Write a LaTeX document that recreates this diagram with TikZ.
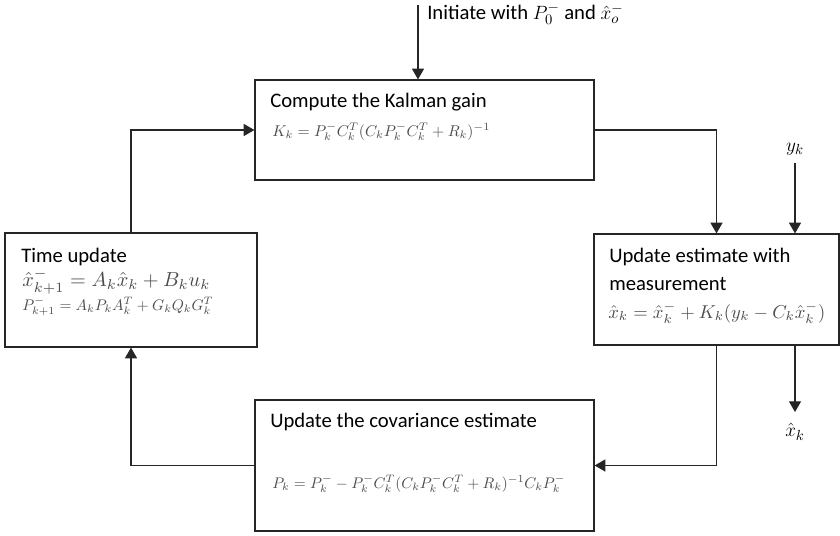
\documentclass[tikz,border=0pt]{standalone}
\usepackage{fontspec}
\usepackage{amsmath}
\usepackage{graphicx}
\usetikzlibrary{arrows.meta}
\newfontfamily\calib{Carlito}
\definecolor{eqgray}{gray}{0.3}
\definecolor{linec}{gray}{0.15}
\begin{document}
\begin{tikzpicture}[x=0.75pt,y=-0.75pt,
  box/.style={draw=linec, line width=0.9pt, inner sep=0pt},
  arr/.style={draw=linec, line width=0.9pt, -{Triangle[width=9pt,length=8pt]}},
  lbl/.style={anchor=base west, inner sep=0pt, font=\calib\fontsize{15.5}{18}\selectfont},
  eq/.style={anchor=base west, inner sep=0pt, text=eqgray}]
\useasboundingbox (0,0) rectangle (840,536);
% boxes
\node[box, minimum width=254.25pt, minimum height=75pt] (k) at (424.5,130) {};
\node[box, minimum width=189pt, minimum height=85.5pt] (t) at (131,290) {};
\node[box, minimum width=183.75pt, minimum height=83.25pt] (u) at (716.5,289.5) {};
\node[box, minimum width=254.25pt, minimum height=98.25pt] (c) at (424.5,465.5) {};
% texts
\node[lbl] (kt) at (270,107) {Compute the Kalman gain};
\node[eq] (ke) at (272,136) {\resizebox{163.5pt}{!}{$K_k = P_k^- C_k^T (C_k P_k^- C_k^T + R_k)^{-1}$}};
\node[lbl] (tt) at (21,262) {Time update};
\node[eq] (te1) at (22,286) {\resizebox{141pt}{!}{$\hat{x}_{k+1}^- = A_k \hat{x}_k + B_k u_k$}};
\node[eq] (te2) at (22,310) {\resizebox{143.25pt}{!}{$P_{k+1}^- = A_k P_k A_k^T + G_k Q_k G_k^T$}};
\node[lbl] (ut1) at (609,262) {Update estimate with};
\node[lbl] (ut2) at (609,290) {measurement};
\node[eq] (ue) at (608,318) {\resizebox{162.75pt}{!}{$\hat{x}_k = \hat{x}_k^- + K_k (y_k - C_k \hat{x}_k^-)$}};
\node[lbl] (ct) at (270,427) {Update the covariance estimate};
\node[eq] (ce) at (272,488) {\resizebox{219.75pt}{!}{$P_k = P_k^- - P_k^- C_k^T (C_k P_k^- C_k^T + R_k)^{-1} C_k P_k^-$}};
% initiate
\coordinate (init) at (418,5);
\node[lbl] (it) at (427,19) {Initiate with $P_0^-$ and $\hat{x}_o^-$};
\draw[arr] (init) -- (init |- k.north);
% yk and xk
\node[anchor=base, inner sep=0pt, font=\fontsize{15}{17}\selectfont] (yk) at (795,151) {$y_k$};
\coordinate (yks) at (795,163);
\draw[arr] (yks) -- (yks |- u.north);
\node[anchor=north, inner sep=0pt, font=\fontsize{15}{17}\selectfont] (xk) at (795,423) {$\hat{x}_k$};
\coordinate (xke) at (795,412);
\draw[arr] (xke |- u.south) -- (xke);
% loop
\draw[arr] (k.east) -| (u.north);
\draw[arr] (u.south) |- (c.east);
\draw[arr] (c.west) -| (t.south);
\draw[arr] (t.north) |- (k.west);
\end{tikzpicture}
\end{document}
